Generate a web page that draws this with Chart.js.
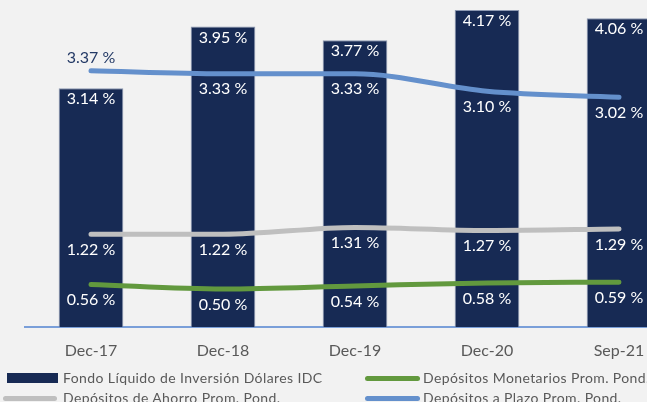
<!DOCTYPE html>
<html>
<head>
<meta charset="utf-8">
<script src="https://cdn.jsdelivr.net/npm/chart.js@4"></script>
<style>
  html, body { margin: 0; padding: 0; background: #f2f2f2; overflow: hidden; }
  #wrap { position: relative; width: 647px; height: 402px; overflow: hidden; }
  #box { position: absolute; left: 0; top: 0; width: 690px; height: 402px; }
  .leg { position: absolute; font: 14px Lato, sans-serif; color: #595959; letter-spacing: 0.4px; white-space: nowrap; line-height: 16px; }
  .sw { position: absolute; }
</style>
</head>
<body>
<div id="wrap">
  <div id="box"><canvas id="chart"></canvas></div>
  <div class="sw" style="left:7px;top:373px;width:51px;height:10px;background:#172a54"></div>
  <div class="leg" style="left:63px;top:370px">Fondo Líquido de Inversión Dólares IDC</div>
  <div class="sw" style="left:365px;top:376px;width:55px;height:5px;border-radius:3px;background:#62993e"></div>
  <div class="leg" style="left:423px;top:370px">Depósitos Monetarios Prom. Pond.</div>
  <div class="sw" style="left:3px;top:396px;width:54px;height:5px;border-radius:3px;background:#bfbfbf"></div>
  <div class="leg" style="left:63px;top:390px">Depósitos de Ahorro Prom. Pond.</div>
  <div class="sw" style="left:365px;top:396px;width:55px;height:5px;border-radius:3px;background:#6490cc"></div>
  <div class="leg" style="left:423px;top:390px">Depósitos a Plazo Prom. Pond.</div>
</div>
<script>
const labels = ['Dec-17', 'Dec-18', 'Dec-19', 'Dec-20', 'Sep-21'];
const fondoIDC = [3.14, 3.95, 3.77, 4.17, 4.06];
const plazo = [3.37, 3.33, 3.33, 3.10, 3.02];
const ahorro = [1.22, 1.22, 1.31, 1.27, 1.29];
const monetarios = [0.56, 0.50, 0.54, 0.58, 0.59];

const fmt = v => v.toFixed(2) + ' %';

// draws the value labels; dy is the offset from the mark, per point
const valueLabels = {
  id: 'valueLabels',
  afterDatasetsDraw(chart) {
    const ctx = chart.ctx;
    ctx.save();
    ctx.font = '16px Lato, sans-serif';
    ctx.textAlign = 'center';
    ctx.textBaseline = 'middle';
    chart.data.datasets.forEach((ds, i) => {
      const meta = chart.getDatasetMeta(i);
      meta.data.forEach((el, j) => {
        const dy = Array.isArray(ds.labelDy) ? ds.labelDy[j] : ds.labelDy;
        ctx.fillStyle = Array.isArray(ds.labelColor) ? ds.labelColor[j] : ds.labelColor;
        ctx.fillText(fmt(ds.data[j]), el.x, el.y + dy);
      });
    });
    ctx.restore();
  }
};

const lineStyle = { borderWidth: 5, pointRadius: 0, cubicInterpolationMode: 'monotone', borderCapStyle: 'round', fill: false, type: 'line', order: 1 };

new Chart(document.getElementById('chart'), {
  type: 'bar',
  data: {
    labels,
    datasets: [
      {
        label: 'Fondo Líquido de Inversión Dólares IDC',
        data: fondoIDC,
        backgroundColor: '#172a54',
        borderColor: '#8d99b2',
        borderWidth: 1,
        barPercentage: 0.49,
        categoryPercentage: 1,
        order: 2,
        labelDy: 11,
        labelColor: '#ffffff',
      },
      {
        ...lineStyle,
        label: 'Depósitos a Plazo Prom. Pond.',
        data: plazo,
        borderColor: '#6490cc',
        labelDy: [-13, 15.5, 15.5, 15.5, 15.5],
        labelColor: ['#243a66', '#ffffff', '#ffffff', '#ffffff', '#ffffff'],
      },
      {
        ...lineStyle,
        label: 'Depósitos de Ahorro Prom. Pond.',
        data: ahorro,
        borderColor: '#bfbfbf',
        labelDy: 15.5,
        labelColor: '#ffffff',
      },
      {
        ...lineStyle,
        label: 'Depósitos Monetarios Prom. Pond.',
        data: monetarios,
        borderColor: '#62993e',
        labelDy: 15.5,
        labelColor: '#ffffff',
      },
    ],
  },
  options: {
    responsive: true,
    maintainAspectRatio: false,
    animation: false,
    layout: { padding: { left: 25, right: 5, top: 0, bottom: 0 } },
    plugins: { legend: { display: false }, tooltip: { enabled: false } },
    scales: {
      x: {
        grid: { display: false, drawTicks: false },
        border: { display: true, color: '#7a9fd9', width: 2 },
        ticks: { color: '#595959', font: { family: 'Lato', size: 16 }, padding: 14 },
        afterFit: s => { s.height = 75; },
      },
      y: { display: false, min: 0, max: 4.3 },
    },
  },
  plugins: [valueLabels],
});
</script>
</body>
</html>
